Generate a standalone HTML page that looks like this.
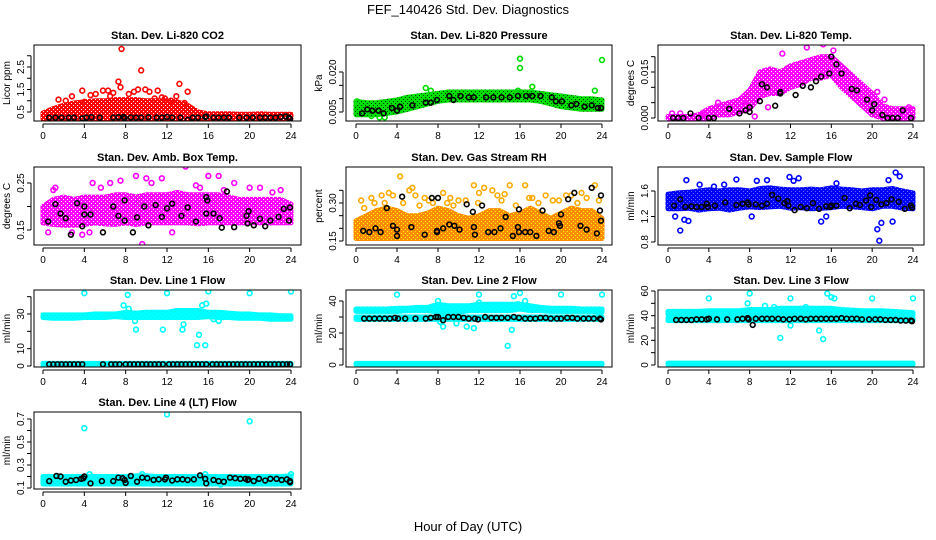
<!DOCTYPE html>
<html><head><meta charset="utf-8">
<style>
html,body{margin:0;padding:0;background:#fff;}
svg{display:block;font-family:"Liberation Sans",sans-serif;}
</style></head>
<body>
<svg id="chart" width="936" height="540" viewBox="0 0 936 540">
<rect x="0" y="0" width="936" height="540" fill="#fff"/>
<text x="468" y="14" text-anchor="middle" font-size="13">FEF_140426  Std. Dev. Diagnostics</text>
<text x="468" y="531" text-anchor="middle" font-size="13">Hour of Day (UTC)</text>
</svg>
<script>
// ---- data ----
const HOURS=[0,1,2,3,4,5,6,7,8,9,10,11,12,13,14,15,16,17,18,19,20,21,22,23,24];
const XTICKS=[0,4,8,12,16,20,24];

// P1 CO2
const co2Lo=[0.2,0.2,0.2,0.2,0.2,0.2,0.2,0.2,0.2,0.2,0.2,0.2,0.2,0.2,0.2,0.2,0.2,0.2,0.2,0.2,0.2,0.2,0.2,0.2,0.2];
const co2Hi=[0.45,0.65,0.8,0.9,0.95,1.0,1.0,1.05,1.05,1.05,1.0,1.0,1.0,0.95,0.8,0.5,0.42,0.42,0.42,0.4,0.4,0.42,0.4,0.4,0.4];
const co2OutX=[1.5,2.8,3.8,4.6,5.1,5.8,6.3,7.3,7.6,7.5,8.8,9.5,9.2,10.3,11.1,11.8,13.2,12.9,14,13.7,8.3,10.8,6.8,4,2.2,12.4,9.9,6.5,11.5];
const co2OutY=[1.05,1.2,1.45,1.25,1.3,1.45,1.45,1.85,3.3,1.6,1.4,2.35,1.5,1.4,1.45,1.1,1.75,1.2,1.4,0.9,1.3,1.1,1.35,0.95,1.0,1.0,1.5,1.2,1.15];
const co2BlkX=[0.6,1.2,1.8,2.5,3,3.8,4.2,4.7,5.5,6.8,7.3,7.8,7.9,8.5,9,9.5,10.2,11,11.5,12,12.5,13.3,14,14.5,15,15.7,15.8,16.5,17,17.5,18,19,19.7,20.3,21,21.5,22,22.5,23,23.5,23.8,23.9];
const co2BlkY=[0.25,0.25,0.25,0.25,0.25,0.22,0.25,0.27,0.25,0.25,0.27,0.28,0.22,0.26,0.25,0.25,0.27,0.25,0.25,0.28,0.25,0.25,0.15,0.25,0.25,0.28,0.3,0.25,0.25,0.25,0.25,0.25,0.25,0.25,0.25,0.25,0.25,0.25,0.28,0.3,0.25,0.2];

// P2 Pressure
const presLo=[0.004,0.004,0.004,0.0045,0.005,0.006,0.007,0.008,0.009,0.0095,0.0095,0.0095,0.0095,0.0095,0.0095,0.0095,0.0095,0.0095,0.009,0.008,0.007,0.0065,0.006,0.006,0.006];
const presHi=[0.009,0.0085,0.0085,0.009,0.0095,0.0105,0.011,0.0115,0.012,0.0125,0.0125,0.0125,0.0125,0.0125,0.0125,0.0125,0.0125,0.0125,0.012,0.0115,0.011,0.0105,0.01,0.01,0.0095];
const presOutX=[16,16,24,2.8,1.5,15.8,7.3,6.8,17.2,23.3,0.1,2.3];
const presOutY=[0.025,0.0215,0.0245,0.003,0.0035,0.013,0.013,0.014,0.0145,0.013,0.009,0.003];
const presBlkX=[0.6,1.1,1.6,2.2,2.7,3.5,4,4.3,5.5,6.8,7.3,7.9,9.1,9.5,10.2,11,11.5,12.7,13.4,14.2,15,15.8,16.6,17.2,18,19.1,19.5,20.1,21,21.5,22.3,23,23.6,23.9];
const presBlkY=[0.0045,0.006,0.0055,0.0055,0.0045,0.0065,0.0055,0.007,0.0075,0.0085,0.0085,0.0095,0.011,0.0095,0.011,0.0105,0.0105,0.0105,0.0105,0.0105,0.0105,0.011,0.011,0.011,0.011,0.0105,0.009,0.009,0.0075,0.008,0.007,0.0075,0.0065,0.0065];

// P3 Temp
const tempLo=[0,0,0,0,0,0.001,0.001,0.002,0.003,0.007,0.008,0.008,0.01,0.011,0.013,0.013,0.014,0.01,0.007,0.004,0.001,0,0,0,0];
const tempHi=[0.0005,0.0005,0.0005,0.001,0.003,0.004,0.005,0.006,0.009,0.015,0.016,0.015,0.017,0.018,0.019,0.02,0.02,0.017,0.014,0.011,0.008,0.004,0.003,0.003,0.003];
const tempOutX=[0.4,1.2,3.5,4.9,7.6,8.5,13.6,15.2,16.2,20.5,21.2,22.8,23.6,9.8,11.2];
const tempOutY=[0.0015,0.0015,0.0015,0.005,0.0045,0.0005,0.023,0.024,0.022,0.0085,0.006,0.002,0.0035,0.0035,0.021];
const tempBlkX=[0.5,1,1.5,2.2,3,4,4.5,6,7,7.6,8,8,9,9.2,9.7,10.5,11,11,12.5,13.2,14,14.5,15,15.8,16,16.5,17,18,18.5,19.5,20,20.2,21,21.5,22,22.5,23,23.8];
const tempBlkY=[0,0,0,0.0015,0,0,0,0.003,0.0015,0.0025,0.002,0.0035,0.0055,0.011,0.01,0.004,0.008,0.0085,0.0075,0.0105,0.01,0.012,0.0135,0.0145,0.02,0.0175,0.0145,0.0095,0.009,0.006,0.0025,0.0045,0.001,0,0,0,0.0025,0];

// P4 Amb box temp
const ambLo=[0.165,0.162,0.16,0.16,0.162,0.165,0.163,0.162,0.165,0.162,0.165,0.165,0.165,0.165,0.165,0.163,0.165,0.165,0.165,0.165,0.165,0.165,0.165,0.165,0.165];
const ambHi=[0.2,0.215,0.22,0.215,0.22,0.22,0.22,0.225,0.225,0.22,0.225,0.225,0.225,0.23,0.225,0.225,0.225,0.225,0.22,0.215,0.215,0.215,0.215,0.215,0.205];
const ambOutX=[0.5,1,1.2,2.8,3.8,4.5,4.8,5.6,6.5,7.5,9,9.6,10,10.5,11.5,12.5,13.8,14.8,15.2,16,17,17.5,18.5,20,21,22.2,23];
const ambOutY=[0.145,0.235,0.24,0.145,0.14,0.145,0.25,0.24,0.25,0.255,0.265,0.12,0.26,0.25,0.26,0.145,0.285,0.245,0.24,0.265,0.265,0.235,0.25,0.24,0.24,0.23,0.235];
const ambBlkX=[0.5,1.2,1.7,2.2,2.7,3.3,3.8,4,4,4.6,5.8,6.8,7.3,7.9,7.9,8.7,9.1,9.8,10.2,10.9,11.5,12,12.5,13.4,14,14.8,15.8,15.8,15.9,16.5,17.1,17.3,17.8,18.5,19.7,19.8,19.9,20.4,21,21.5,22,22.8,23.3,23.8,23.9];
const ambBlkY=[0.168,0.205,0.185,0.175,0.14,0.207,0.158,0.183,0.2,0.183,0.145,0.2,0.18,0.17,0.213,0.145,0.177,0.2,0.16,0.203,0.178,0.196,0.206,0.18,0.198,0.168,0.22,0.185,0.213,0.185,0.175,0.155,0.232,0.156,0.18,0.164,0.19,0.16,0.174,0.158,0.17,0.178,0.195,0.17,0.198];

// P5 RH
const rhLo=[0.16,0.16,0.16,0.16,0.16,0.16,0.16,0.16,0.16,0.16,0.16,0.16,0.16,0.16,0.16,0.16,0.16,0.16,0.16,0.16,0.16,0.16,0.16,0.16,0.16];
const rhHi=[0.23,0.25,0.27,0.28,0.27,0.25,0.25,0.26,0.28,0.27,0.25,0.24,0.25,0.27,0.27,0.25,0.26,0.28,0.26,0.24,0.26,0.28,0.27,0.27,0.24];
const rhOutX=[0.5,1.5,2.5,3.2,4.3,5.2,5.5,6.7,8.5,10,11.5,12,13.3,14.5,15,16.5,18.5,19.8,21,22,23.3,2.8,7.5,9.5,17.2,0.8,1.8,3.6,4.6,5.8,6.2,7.1,8.9,9.2,10.7,11.9,12.5,13.8,14.2,15.6,16.9,17.8,19.2,20.5,21.6,22.5,23.7];
const rhOutY=[0.31,0.32,0.33,0.34,0.405,0.35,0.36,0.32,0.34,0.31,0.37,0.34,0.35,0.335,0.37,0.37,0.33,0.31,0.33,0.34,0.37,0.3,0.3,0.29,0.32,0.28,0.3,0.33,0.3,0.33,0.29,0.31,0.3,0.32,0.31,0.3,0.36,0.33,0.31,0.29,0.32,0.3,0.31,0.33,0.3,0.32,0.31];
const rhBlkX=[0.7,1.3,1.9,2.4,3,3.6,4,4,4.5,5.4,6.7,7.4,7.9,7.9,8,8.5,9.1,9.6,10.1,10.8,11.4,11.5,11.6,12.3,12.9,13.5,14.1,14.6,15.3,15.8,15.9,15.9,16.5,17,17.6,18.2,18.8,19.3,19.8,19.9,20,20.7,21.3,21.9,22.5,23,23.5,23.8,23.9,23.9];
const rhBlkY=[0.19,0.185,0.2,0.185,0.28,0.21,0.195,0.17,0.325,0.205,0.175,0.32,0.19,0.185,0.32,0.2,0.215,0.21,0.195,0.295,0.265,0.205,0.175,0.29,0.185,0.185,0.2,0.245,0.17,0.205,0.275,0.185,0.185,0.185,0.17,0.27,0.19,0.185,0.22,0.21,0.255,0.315,0.34,0.21,0.195,0.36,0.18,0.27,0.23,0.33];

// P6 Sample flow
const sfLo=[1.32,1.32,1.33,1.3,1.32,1.33,1.3,1.33,1.35,1.34,1.35,1.36,1.33,1.34,1.32,1.33,1.34,1.36,1.35,1.34,1.32,1.36,1.36,1.33,1.32];
const sfHi=[1.55,1.57,1.58,1.6,1.62,1.6,1.62,1.62,1.6,1.64,1.65,1.63,1.62,1.62,1.63,1.62,1.65,1.63,1.62,1.6,1.62,1.62,1.64,1.6,1.57];
const sfOutX=[0.7,1.2,1.6,1.8,2,5.5,6.7,8.2,8.7,9.7,11.9,12.3,12.8,15,15.5,16.5,20.5,20.7,20.9,21.6,22,22.3,22.7,3.1,4.5];
const sfOutY=[1.2,0.98,1.15,1.77,1.13,1.7,1.78,1.2,1.76,1.77,1.82,1.76,1.8,1.12,1.2,1.72,1.0,0.82,1.1,1.77,1.12,1.89,1.83,1.7,1.67];
const sfBlkX=[0.6,1.2,1.7,2.3,2.8,3.3,3.8,3.9,4.6,5.6,6.7,7.3,7.8,7.9,8.6,9.2,9.7,10.2,10.8,11.4,11.7,11.8,12.4,13,13.6,14.2,14.8,15.5,15.9,16,16.5,17.3,17.8,18.4,18.8,19.4,19.8,19.9,20.4,20.9,21.4,21.9,22.6,23.2,23.8,23.9];
const sfBlkY=[1.37,1.47,1.35,1.36,1.35,1.35,1.4,1.35,1.37,1.42,1.38,1.4,1.42,1.39,1.39,1.37,1.4,1.54,1.48,1.41,1.44,1.37,1.3,1.35,1.33,1.41,1.32,1.36,1.35,1.37,1.37,1.49,1.33,1.4,1.38,1.45,1.53,1.35,1.46,1.39,1.41,1.47,1.43,1.32,1.37,1.34];

// P7 Line 1
const l1Lo=[28,27.5,27.5,27.5,28,28,28,28.5,28,28,28,28,28,28,28,28,28.5,28,28,27.5,27.5,27.5,27,27,27];
const l1Hi=[29.5,29.5,29.5,29.5,29.5,30,30,30,31,30.5,31,31,31,32,32,32,31,31,30.5,30,30,29.5,29.5,29,29];
const l1ZeroLo=[0.5,0.5,0.5,0.5,0.5,0.5,0.5,0.5,0.5,0.5,0.5,0.5,0.5,0.5,0.5,0.5,0.5,0.5,0.5,0.5,0.5,0.5,0.5,0.5,0.5];
const l1ZeroHi=[1.5,1.5,1.5,1.5,1.5,1.5,1.5,1.5,1.5,1.5,1.5,1.5,1.5,1.5,1.5,1.5,1.5,1.5,1.5,1.5,1.5,1.5,1.5,1.5,1.5];
const l1OutX=[4,8.2,12,16,20,24,7.8,8.3,8.9,9,11.6,13.5,13.6,14.9,15.1,15.4,15.7,16.5,15.8,17];
const l1OutY=[42,41,42,43,42,43,35,33,26,21,21,21,24,12,18,35,12,27,36,26];
const l1BlkX=[0.6,1,1.4,1.8,2.2,2.6,3,3.4,3.8,5.8,6.6,7,7.4,8,8.4,8.8,9.2,9.6,10,10.4,10.8,11.2,11.6,12.2,12.6,13,13.4,13.8,14.2,14.6,15,15.4,15.8,16.4,16.8,17.2,17.6,18,18.4,18.8,19.2,19.6,20,20.4,20.8,21.2,21.6,22,22.4,22.8,23.2,23.6,23.9];
const l1BlkY=[1,1,1,1,1,1,1,1,1,1,1,1,1,1,1,1,1,1,1,1,1,1,1,1,1,1,1,1,1,1,1,1,1,1,1,1,1,1,1,1,1,1,1,1,1,1,1,1,1,1,1,1,1];

// P8 Line 2
const l2Lo=[33.5,33.5,33.5,33.5,33.5,34,34,34,33,33,33,34,34,34,34,34,35,34,34,33.5,33.5,33.5,33.5,33.5,33];
const l2Hi=[35,35,35,35,35.5,35.5,36,36,38,37,37,37,38,38,38,38,38,37,36,35.5,35.5,35.5,35,35,35];
const l2MidLo=[28.5,28.5,28.5,28.5,28.5,28.5,28.5,28.5,28.5,28.5,28.5,28.5,28.5,28.5,28.5,28.5,28.5,28.5,28.5,28.5,28.5,28.5,28.5,28.5,28.5];
const l2MidHi=[30,30,30,30,30,30,30,30,30,30,30,30,30,30,30,30,30,30,30,30,30,30,30,30,30];
const l2ZeroLo=[0.3,0.3,0.3,0.3,0.3,0.3,0.3,0.3,0.3,0.3,0.3,0.3,0.3,0.3,0.3,0.3,0.3,0.3,0.3,0.3,0.3,0.3,0.3,0.3,0.3];
const l2ZeroHi=[1,1,1,1,1,1,1,1,1,1,1,1,1,1,1,1,1,1,1,1,1,1,1,1,1];
const l2OutX=[4,12,16,20,24,8,8.2,8.5,8.7,11.5,12,14.8,15.2,15.4,15.8,16.5,10.8,9.8];
const l2OutY=[44,44,45,44,44,40,27,24,37,23,39,12,22,43,38,40,24,26];
const l2BlkX=[0.8,1.3,1.8,2.3,2.8,3.3,3.8,4.1,4.8,5.8,6.8,7.3,7.8,8,8.5,9,9.5,10,10.5,11,11.6,11.9,12.6,13.2,13.7,14.2,14.8,15.4,15.9,16.5,17,17.5,18,18.5,19,19.6,20,20.6,21.1,21.6,22.2,22.7,23.2,23.8,23.9];
const l2BlkY=[29,29,29,29,29,29,29.5,29,29,29,29,29.5,30,30,28,30,30,30,29.5,29,29,28.5,30,29.5,29.5,29.5,29.5,30,29.5,29,29,29,29.5,29.5,29,29,29,29.5,29.5,29,29,29,29,29,28.5];

// P9 Line 3
const l3Lo=[41,41,41,41,41.5,41.5,41.5,42,42,42,42,42,41,41,41,41,41.5,42,42,42,41.5,41.5,41,41,40.5];
const l3Hi=[43.5,43.5,43.5,43.5,44,44,44,44,45,45,45,46,46,46,46,46,46,45,44.5,44,44,44,43.5,43,42.5];
const l3MidLo=[36,36,36,36,36,36,36,36,36,36,36,36,36,36,36,36,36,36,36,36,36,36,36,36,36];
const l3MidHi=[38,38,38,38,38,38,38,38,38,38,38,38,38,38,38,38,38,38,38,38,38,38,38,38,38];
const l3ZeroLo=[0.3,0.3,0.3,0.3,0.3,0.3,0.3,0.3,0.3,0.3,0.3,0.3,0.3,0.3,0.3,0.3,0.3,0.3,0.3,0.3,0.3,0.3,0.3,0.3,0.3];
const l3ZeroHi=[1.5,1.5,1.5,1.5,1.5,1.5,1.5,1.5,1.5,1.5,1.5,1.5,1.5,1.5,1.5,1.5,1.5,1.5,1.5,1.5,1.5,1.5,1.5,1.5,1.5];
const l3OutX=[4,8,7.8,12,12,16,16.3,20,24,11,10.4,14.8,15.2,9.5,13.5,15.6];
const l3OutY=[54,58,50,54,32,55,54,54,54,22,47,28,21,48,47,58];
const l3BlkX=[0.8,1.3,1.8,2.3,2.8,3.3,3.8,4,4.8,5.8,6.8,7.3,7.8,7.9,8.3,8.6,9.2,9.7,10.2,10.8,11.3,11.9,12.4,13,13.5,14,14.5,15,15.5,16,16.5,17,17.5,18,18.5,19,19.7,20.3,20.8,21.3,21.8,22.3,22.8,23.3,23.8,23.9];
const l3BlkY=[36.5,36.5,36.5,36.5,37,37,37,37.5,37,37,37,37.5,38,37,32.5,37.5,37.5,37.5,37.5,37.5,37,37,37.5,37.5,37,37.5,37.5,37.5,37.5,37.5,37.5,38,37.5,37.5,37.5,37,37,37,37,36.5,36.5,36.5,36,36,36,35.5];

// P10 Line 4
const l4Lo=[0.135,0.135,0.135,0.135,0.135,0.135,0.135,0.135,0.135,0.135,0.135,0.135,0.135,0.135,0.135,0.135,0.135,0.135,0.135,0.135,0.135,0.135,0.135,0.135,0.135];
const l4Hi=[0.2,0.2,0.2,0.2,0.2,0.2,0.2,0.2,0.2,0.205,0.205,0.2,0.2,0.2,0.2,0.2,0.2,0.2,0.2,0.2,0.2,0.2,0.2,0.2,0.205];
const l4OutX=[4,12,20,4.5,9.6,15.7,17.2,24];
const l4OutY=[0.62,0.74,0.68,0.22,0.22,0.22,0.13,0.22];
const l4BlkX=[0.6,1.3,1.7,2.2,2.7,3.2,3.7,3.9,4,4.6,5.7,6.8,7.3,7.7,7.9,8,8.5,9.1,9.6,10.1,10.7,11.2,11.8,11.9,12.5,13,13.5,14,14.6,15.2,15.7,15.8,16.5,17,17.5,18.1,18.6,19.1,19.6,19.8,19.9,20.4,20.9,21.5,22,22.6,23.1,23.6,23.9,23.9];
const l4BlkY=[0.16,0.205,0.2,0.155,0.165,0.17,0.18,0.185,0.2,0.14,0.16,0.16,0.19,0.185,0.17,0.145,0.205,0.155,0.19,0.185,0.17,0.175,0.175,0.19,0.165,0.175,0.175,0.17,0.175,0.21,0.18,0.14,0.17,0.16,0.155,0.19,0.185,0.18,0.18,0.17,0.175,0.16,0.18,0.165,0.18,0.18,0.17,0.175,0.15,0.16];

// ---- layout ----
const COLS=[{l:34,r:301,x0:43,x24:291},{l:346,r:612,x0:356,x24:602},{l:658,r:924,x0:668,x24:913}];
const ROWS=[{t:45,b:121},{t:167,b:245},{t:290,b:367},{t:412,b:489}];
const NS='http://www.w3.org/2000/svg';
const svg=document.getElementById('chart');
function mk(tag,attrs,parent){const e=document.createElementNS(NS,tag);for(const k in attrs)e.setAttribute(k,attrs[k]);(parent||svg).appendChild(e);return e;}
const defs=mk('defs',{});
let patN=0;
function speckle(color,dot){
  const id='pat'+(patN++);
  const p=mk('pattern',{id:id,width:4,height:4,patternUnits:'userSpaceOnUse'},defs);
  mk('rect',{x:0,y:0,width:4,height:4,fill:color},p);
  mk('rect',{x:1,y:1,width:1,height:1,fill:dot},p);
  mk('rect',{x:3,y:3,width:1,height:1,fill:dot},p);
  return 'url(#'+id+')';
}

const panels=[
 {c:0,r:0,title:'Stan. Dev. Li-820 CO2',ylab:'Licor ppm',cal:[0.5,112,2.5,67],ticks:[0.5,1,1.5,2,2.5,3],labels:[0.5,1.5,2.5],fmt:v=>v.toFixed(1),color:'#ff0000',dot:'#fff',
  bands:[[co2Lo,co2Hi]],outX:co2OutX,outY:co2OutY,blkX:co2BlkX,blkY:co2BlkY},
 {c:1,r:0,title:'Stan. Dev. Li-820 Pressure',ylab:'kPa',cal:[0.005,112,0.020,72],ticks:[0.005,0.010,0.015,0.020],labels:[0.005,0.020],fmt:v=>v.toFixed(3),color:'#00dd00',dot:'#004400',
  bands:[[presLo,presHi]],outX:presOutX,outY:presOutY,blkX:presBlkX,blkY:presBlkY},
 {c:2,r:0,title:'Stan. Dev. Li-820 Temp.',ylab:'degrees C',cal:[0,118,0.015,72],ticks:[0,0.005,0.010,0.015,0.020],labels:[0,0.015],fmt:v=>v.toFixed(3),color:'#ff00ff',dot:'#fff',
  bands:[[tempLo,tempHi]],outX:tempOutX,outY:tempOutY,blkX:tempBlkX,blkY:tempBlkY},
 {c:0,r:1,title:'Stan. Dev. Amb. Box Temp.',ylab:'degrees C',cal:[0.15,230,0.25,183],ticks:[0.15,0.2,0.25],labels:[0.15,0.25],fmt:v=>v.toFixed(2),color:'#ff00ff',dot:'#fff',
  bands:[[ambLo,ambHi]],outX:ambOutX,outY:ambOutY,blkX:ambBlkX,blkY:ambBlkY},
 {c:1,r:1,title:'Stan. Dev. Gas Stream RH',ylab:'percent',cal:[0.15,241,0.30,203],ticks:[0.15,0.2,0.25,0.3,0.35],labels:[0.15,0.30],fmt:v=>v.toFixed(2),color:'#ff8c00',dot:'#ffff00',outColor:'#ffaa00',
  bands:[[rhLo,rhHi]],outX:rhOutX,outY:rhOutY,blkX:rhBlkX,blkY:rhBlkY},
 {c:2,r:1,title:'Stan. Dev. Sample Flow',ylab:'ml/min',cal:[0.8,242,1.6,191],ticks:[0.8,1.2,1.6],labels:[0.8,1.2,1.6],fmt:v=>v.toFixed(1),color:'#0000ff',dot:'#6666ff',
  bands:[[sfLo,sfHi]],outX:sfOutX,outY:sfOutY,blkX:sfBlkX,blkY:sfBlkY},
 {c:0,r:2,title:'Stan. Dev. Line 1 Flow',ylab:'ml/min',cal:[0,366,30,314],ticks:[0,10,20,30,40],labels:[0,10,30],fmt:v=>String(v),color:'#00ffff',dot:'#00eeee',
  bands:[[l1Lo,l1Hi],[l1ZeroLo,l1ZeroHi]],outX:l1OutX,outY:l1OutY,blkX:l1BlkX,blkY:l1BlkY},
 {c:1,r:2,title:'Stan. Dev. Line 2 Flow',ylab:'ml/min',cal:[0,365,40,301],ticks:[0,10,20,30,40],labels:[0,20,40],fmt:v=>String(v),color:'#00ffff',dot:'#00eeee',
  bands:[[l2Lo,l2Hi],[l2MidLo,l2MidHi],[l2ZeroLo,l2ZeroHi]],outX:l2OutX,outY:l2OutY,blkX:l2BlkX,blkY:l2BlkY},
 {c:2,r:2,title:'Stan. Dev. Line 3 Flow',ylab:'ml/min',cal:[0,365,60,291],ticks:[0,10,20,30,40,50,60],labels:[0,20,40,60],fmt:v=>String(v),color:'#00ffff',dot:'#00eeee',
  bands:[[l3Lo,l3Hi],[l3MidLo,l3MidHi],[l3ZeroLo,l3ZeroHi]],outX:l3OutX,outY:l3OutY,blkX:l3BlkX,blkY:l3BlkY},
 {c:0,r:3,title:'Stan. Dev. Line 4 (LT) Flow',ylab:'ml/min',cal:[0.1,488,0.7,419],ticks:[0.1,0.2,0.3,0.4,0.5,0.6,0.7],labels:[0.1,0.3,0.5,0.7],fmt:v=>v.toFixed(1),color:'#00ffff',dot:'#00eeee',
  bands:[[l4Lo,l4Hi]],outX:l4OutX,outY:l4OutY,blkX:l4BlkX,blkY:l4BlkY}
];

panels.forEach((p,i)=>{
  const C=COLS[p.c],R=ROWS[p.r];
  const g=mk('g',{});
  
  
  const xs=h=>C.x0+(C.x24-C.x0)*h/24;
  const ys=v=>p.cal[1]+(v-p.cal[0])*(p.cal[3]-p.cal[1])/(p.cal[2]-p.cal[0]);
  const clipId='clip'+i;
  const cp=mk('clipPath',{id:clipId},g);
  mk('rect',{x:C.l,y:R.t,width:C.r-C.l,height:R.b-R.t},cp);
  const plot=mk('g',{'clip-path':'url(#'+clipId+')'},g);
  const fillP=speckle(p.color,p.dot);
  p.bands.forEach(([lo,hi])=>{
    let d='';
    HOURS.forEach((h,k)=>{d+=(k?'L':'M')+xs(h).toFixed(1)+','+ys(hi[k]).toFixed(1);});
    for(let k=HOURS.length-1;k>=0;k--) d+='L'+xs(HOURS[k]).toFixed(1)+','+ys(lo[k]).toFixed(1);
    const band=mk('path',{d:d+'Z',fill:fillP,stroke:fillP,'stroke-width':5,'stroke-linejoin':'round'},plot);
    
    
  });
  p.outX.forEach((x,k)=>{
    const c=mk('circle',{cx:xs(x),cy:ys(p.outY[k]),r:2.4,fill:'none',stroke:p.outColor||p.color,'stroke-width':1.6},plot);
    
    
  });
  p.blkX.forEach((x,k)=>{
    const c=mk('circle',{cx:xs(x),cy:ys(p.blkY[k]),r:2.4,fill:'none',stroke:'#000','stroke-width':1.6},plot);
    
    
  });
  const box=mk('rect',{x:C.l,y:R.t,width:C.r-C.l,height:R.b-R.t,fill:'none',stroke:'#000','stroke-width':1},g);
  
  
  const t=mk('text',{x:(C.l+C.r)/2,y:R.t-6,'text-anchor':'middle','font-size':11,'font-weight':'bold'},g);
  t.textContent=p.title;
  
  
  const ay=R.b+3;
  mk('line',{x1:xs(0),x2:xs(24),y1:ay,y2:ay,stroke:'#000'},g);
  XTICKS.forEach(h=>{
    mk('line',{x1:xs(h),x2:xs(h),y1:ay,y2:ay+4,stroke:'#000'},g);
    const tl=mk('text',{x:xs(h),y:ay+15,'text-anchor':'middle','font-size':10},g);
    tl.textContent=h;
    
    
  });
  const ax=C.l-3;
  mk('line',{x1:ax,x2:ax,y1:ys(p.ticks[0]),y2:ys(p.ticks[p.ticks.length-1]),stroke:'#000'},g);
  p.ticks.forEach(v=>{mk('line',{x1:ax-4,x2:ax,y1:ys(v),y2:ys(v),stroke:'#000'},g);});
  p.labels.forEach(v=>{
    const yy=ys(v);
    const tl=mk('text',{x:ax-7,y:yy,'text-anchor':'middle','font-size':10,transform:'rotate(-90 '+(ax-7)+' '+yy+')'},g);
    tl.textContent=p.fmt(v);
    
    
  });
  const ym=(R.t+R.b)/2, yx=C.l-24;
  const yl=mk('text',{x:yx,y:ym,'text-anchor':'middle','font-size':10,transform:'rotate(-90 '+yx+' '+ym+')'},g);
  yl.textContent=p.ylab;
  
  
});
</script>
</body></html>
